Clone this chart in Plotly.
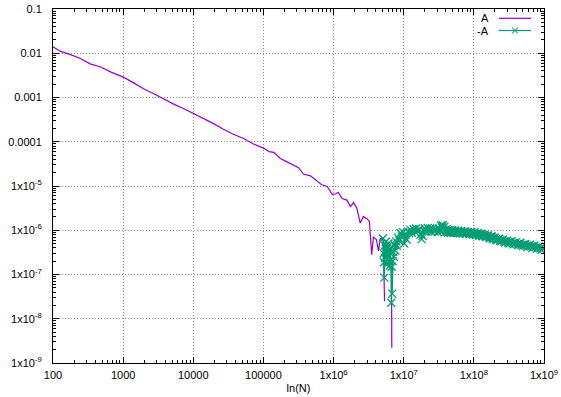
import plotly.graph_objects as go

# ---------------- data ----------------
x_ticks = [1e2, 1e3, 1e4, 1e5, 1e6, 1e7, 1e8, 1e9]
x_ticktext = ["100", "1000", "10000", "100000", "1x10<sup>6</sup>", "1x10<sup>7</sup>",
              "1x10<sup>8</sup>", "1x10<sup>9</sup>"]
y_ticks = [1e-1, 1e-2, 1e-3, 1e-4, 1e-5, 1e-6, 1e-7, 1e-8, 1e-9]
y_ticktext = ["0.1", "0.01", "0.001", "0.0001", "1x10<sup>-5</sup>", "1x10<sup>-6</sup>",
              "1x10<sup>-7</sup>", "1x10<sup>-8</sup>", "1x10<sup>-9</sup>"]
mantissas = [2, 3, 4, 5, 6, 7, 8, 9]
x_decades = [2, 3, 4, 5, 6, 7, 8]
y_decades = [-9, -8, -7, -6, -5, -4, -3, -2]

# series "A" (positive part); None marks where A changes sign
a_n = [100, 128, 178, 245, 339, 479, 661, 1023, 1413, 1950, 2690, 3715, 5250, 7244,
       10230, 14130, 19500, 26900, 37150, 51300, 72400, 102000, 120000, 141000, 174000,
       214000, 269000, 316000, 372000, 468000, 575000, 676000, 813000, 955000, 1.06e6,
       1.17e6, 1.32e6, 1.55e6, 1.74e6, 1.93e6, 2.14e6, 2.4e6, 2.66e6, 3.05e6, 3.24e6,
       3.5e6, 3.7e6, 4.07e6, 4.37e6, 4.62e6, 5.0e6, 5.1e6, 5.33e6,
       None, 6.7e6, 6.76e6]
a_val = [0.0140, 0.0110, 0.00933, 0.00759, 0.00575, 0.00490, 0.00380, 0.00285, 0.00214,
         0.00158, 0.00123, 0.000933, 0.000708, 0.000562, 0.000427, 0.000339, 0.000257,
         0.000191, 0.000148, 0.000120, 8.9e-5, 7.1e-5, 6.0e-5, 5.75e-5, 4.2e-5, 3.55e-5,
         2.9e-5, 2.6e-5, 1.86e-5, 1.7e-5, 1.32e-5, 1.07e-5, 9.8e-6, 6.5e-6, 6.6e-6,
         7.2e-6, 5.2e-6, 4.8e-6, 3.4e-6, 4.2e-6, 3.2e-6, 1.45e-6, 2.05e-6, 1.78e-6,
         1.58e-6, 2.8e-7, 7.1e-7, 6.2e-7, 3.4e-7, 6.5e-7, 6.5e-7, 6.4e-7, 2.5e-8,
         None, 1.26e-7, 2.2e-9]

# series "-A" (negative part of A, sign flipped)
m_n = [5.05e6, 5.15e6, 5.25e6, 5.30e6, 5.35e6, 5.45e6, 5.55e6, 5.65e6, 5.75e6, 5.85e6,
       5.95e6, 6.05e6, 6.15e6, 6.25e6, 6.35e6, 6.45e6, 6.55e6, 6.65e6, 6.75e6, 6.85e6,
       6.95e6, 7.1e6, 7.25e6, 7.4e6, 7.6e6, 7.8e6, 8.0e6, 8.3e6, 8.6e6, 9.0e6,
       9.4e6, 9.8e6, 1.02e7, 1.06e7, 1.1e7, 1.15e7, 1.2e7, 1.25e7, 1.3e7, 1.38e7,
       1.45e7, 1.5e7, 1.58e7, 1.66e7, 1.74e7, 1.8e7, 1.86e7, 1.93e7, 2.0e7, 2.1e7,
       2.2e7, 2.3e7, 2.4e7, 2.5e7, 2.6e7, 2.75e7, 2.9e7, 3.05e7, 3.2e7, 3.3e7,
       3.4e7, 3.5e7, 3.6e7, 3.7e7, 3.8e7, 3.95e7,
       4.1e7, 4.2e7, 4.3e7, 4.4e7, 4.5e7, 4.6e7, 4.7e7, 4.8e7, 4.9e7, 5.0e7,
       5.1e7, 5.25e7, 5.4e7, 5.55e7, 5.7e7, 5.85e7, 6.0e7, 6.15e7, 6.3e7, 6.45e7,
       6.6e7, 6.8e7, 7.0e7, 7.2e7, 7.4e7, 7.6e7, 7.8e7, 8.0e7, 8.2e7, 8.45e7,
       8.7e7, 8.95e7, 9.2e7, 9.45e7, 9.7e7, 1.0e8, 1.02e8, 1.05e8, 1.08e8, 1.11e8,
       1.14e8, 1.17e8, 1.2e8, 1.24e8, 1.27e8, 1.3e8, 1.34e8, 1.38e8, 1.42e8, 1.46e8,
       1.5e8, 1.55e8, 1.6e8, 1.65e8, 1.7e8, 1.75e8, 1.8e8, 1.85e8, 1.9e8, 1.95e8,
       2.0e8, 2.07e8, 2.15e8, 2.22e8, 2.3e8, 2.37e8, 2.45e8, 2.52e8, 2.6e8, 2.7e8,
       2.8e8, 2.9e8, 3.0e8, 3.1e8, 3.2e8, 3.32e8, 3.45e8, 3.57e8, 3.7e8, 3.85e8,
       4.0e8, 4.15e8, 4.3e8, 4.45e8, 4.6e8, 4.8e8, 5.0e8, 5.2e8, 5.4e8, 5.6e8,
       5.8e8, 6.05e8, 6.3e8, 6.55e8, 6.8e8, 7.05e8, 7.3e8, 7.6e8, 7.9e8, 8.2e8,
       8.5e8, 8.85e8, 9.2e8, 9.6e8, 1.0e9]
m_val = [6.5e-7, 3.0e-7, 1.9e-7, 8.5e-8, 4.5e-7, 2.4e-7, 5.5e-7, 3.0e-7, 1.7e-7, 4.2e-7,
         2.6e-7, 5.0e-7, 2.0e-7, 3.6e-7, 1.6e-7, 4.0e-7, 2.2e-7, 2.3e-8, 1.5e-7, 3.7e-8,
         2.0e-7, 3.2e-7, 2.5e-7, 4.6e-7, 3.5e-7, 5.6e-7, 4.5e-7, 6.8e-7, 5.8e-7, 8.7e-7,
         7.2e-7, 9.0e-7, 5.0e-7, 8.0e-7, 6.2e-7, 9.3e-7, 8.5e-7, 1.02e-6, 8.8e-7, 1.05e-6,
         9.2e-7, 1.1e-6, 9.5e-7, 1.05e-6, 8.0e-7, 6.3e-7, 7.5e-7, 9.6e-7, 1.1e-6, 9.4e-7,
         1.12e-6, 9.8e-7, 1.1e-6, 9.2e-7, 1.08e-6, 9.3e-7, 1.05e-6, 9.0e-7, 1.1e-6, 9.6e-7,
         1.28e-6, 1.15e-6, 1.3e-6, 1.0e-6, 1.2e-6, 9.2e-7,
         1.05e-6, 9.4e-7, 8.9e-7, 1.0e-6, 1.02e-6, 9.0e-7, 8.8e-7, 9.7e-7, 1.0e-6, 9.1e-7,
         8.7e-7, 9.5e-7, 9.9e-7, 9.0e-7, 8.6e-7, 9.4e-7, 9.8e-7, 8.9e-7, 8.5e-7, 9.3e-7,
         9.6e-7, 8.8e-7, 8.4e-7, 9.1e-7, 9.4e-7, 8.7e-7, 8.3e-7, 9.0e-7, 9.2e-7, 8.5e-7,
         8.2e-7, 8.9e-7, 9.1e-7, 8.4e-7, 8.0e-7, 8.7e-7, 9.0e-7, 8.2e-7, 7.8e-7, 8.4e-7,
         8.6e-7, 7.9e-7, 7.5e-7, 8.1e-7, 8.3e-7, 7.6e-7, 7.3e-7, 7.8e-7, 7.9e-7, 7.3e-7,
         7.0e-7, 7.5e-7, 7.6e-7, 6.9e-7, 6.6e-7, 7.1e-7, 7.2e-7, 6.6e-7, 6.3e-7, 6.7e-7,
         6.8e-7, 6.2e-7, 5.9e-7, 6.3e-7, 6.4e-7, 5.8e-7, 5.6e-7, 6.0e-7, 6.1e-7, 5.6e-7,
         5.3e-7, 5.6e-7, 5.8e-7, 5.3e-7, 5.0e-7, 5.4e-7, 5.6e-7, 5.1e-7, 4.8e-7, 5.1e-7,
         5.4e-7, 4.9e-7, 4.6e-7, 4.9e-7, 5.2e-7, 4.7e-7, 4.4e-7, 4.7e-7, 4.9e-7, 4.5e-7,
         4.2e-7, 4.5e-7, 4.7e-7, 4.3e-7, 4.0e-7, 4.3e-7, 4.5e-7, 4.1e-7, 3.8e-7, 4.1e-7,
         4.3e-7, 3.9e-7, 3.6e-7, 3.9e-7, 4.0e-7]

series_names = ["A", "-A"]

# ---------------- style ----------------
PURPLE = "#9400D3"
GREEN = "#009E73"
FONT = "Liberation Sans, Arial, sans-serif"
FS = 11

L = 53; R = 17; T = 9; B = 34; W = 561; H = 397
pw = W - L - R; ph = H - T - B
def px(x): return (x - L) / pw
def py(y): return (H - B - y) / ph

fig = go.Figure()
fig.add_trace(go.Scatter(x=a_n, y=a_val, mode="lines", connectgaps=False,
                         line=dict(color=PURPLE, width=1.2), showlegend=False))
fig.add_trace(go.Scatter(x=m_n, y=m_val, mode="lines+markers",
                         line=dict(color=GREEN, width=1.2),
                         marker=dict(symbol="x-thin", size=8, color=GREEN,
                                     line=dict(color=GREEN, width=1.3)),
                         showlegend=False))

# gnuplot-style key drawn on an overlay axis spanning the plot area (0..1)
key_rows = [18.3, 30.5]
fig.add_trace(go.Scatter(x=[px(499), px(531)], y=[py(key_rows[0])] * 2, mode="lines",
                         line=dict(color=PURPLE, width=1.2), xaxis="x2", yaxis="y2",
                         showlegend=False, hoverinfo="skip"))
fig.add_trace(go.Scatter(x=[px(499), px(515), px(531)], y=[py(key_rows[1])] * 3,
                         mode="lines+markers", line=dict(color=GREEN, width=1.2),
                         marker=dict(symbol="x-thin", size=[0, 6, 0], color=GREEN,
                                     line=dict(color=GREEN, width=1.2)),
                         xaxis="x2", yaxis="y2", showlegend=False, hoverinfo="skip"))
for name, row in zip(series_names, key_rows):
    fig.add_annotation(x=px(491), y=py(row), xref="paper", yref="paper", text=name,
                       showarrow=False, xanchor="right", yanchor="middle",
                       font=dict(family=FONT, size=FS, color="black"))

# empty trace so the minor-tick overlay axes exist
fig.add_trace(go.Scatter(x=[None], y=[None], xaxis="x3", yaxis="y3", showlegend=False,
                         hoverinfo="skip"))

x_minor = [m * 10 ** d for d in x_decades for m in mantissas]
y_minor = [m * 10 ** d for d in y_decades for m in mantissas]

axis_common = dict(
    type="log", showline=True, linecolor="black", linewidth=1, mirror="allticks",
    ticks="inside", ticklen=6, tickcolor="black", tickwidth=1, automargin=False,
    showgrid=True, gridcolor="#8c8c8c", gridwidth=1, griddash="1px,2px",
    zeroline=False, tickfont=dict(family=FONT, size=FS, color="black"),
)
minor_common = dict(
    type="log", showline=False, mirror="allticks", ticks="inside", ticklen=3,
    tickcolor="black", tickwidth=1, showticklabels=False, showgrid=False,
    zeroline=False, automargin=False, fixedrange=True,
)

fig.update_layout(
    width=W, height=H, margin=dict(l=L, r=R, t=T, b=B, autoexpand=False),
    paper_bgcolor="white", plot_bgcolor="white",
    font=dict(family=FONT, size=FS, color="black"),
    xaxis=dict(axis_common, range=[2, 9], tickvals=x_ticks, ticktext=x_ticktext,
               ticklabelstandoff=2,
               title=dict(text="ln(N)", standoff=4, font=dict(family=FONT, size=FS))),
    yaxis=dict(axis_common, range=[-9, -1], tickvals=y_ticks, ticktext=y_ticktext,
               ticklabelstandoff=8),
    xaxis2=dict(overlaying="x", range=[0, 1], visible=False, fixedrange=True),
    yaxis2=dict(overlaying="y", range=[0, 1], visible=False, fixedrange=True),
    xaxis3=dict(minor_common, overlaying="x", anchor="y3", range=[2, 9], tickvals=x_minor),
    yaxis3=dict(minor_common, overlaying="y", anchor="x3", range=[-9, -1], tickvals=y_minor),
)

# remove the browser's default 8px page margin so the figure sits at the window origin
fig.write_html("out.html", config={"displayModeBar": False},
               post_script="document.body.style.margin='0';"
                           "document.body.style.overflow='hidden';")
